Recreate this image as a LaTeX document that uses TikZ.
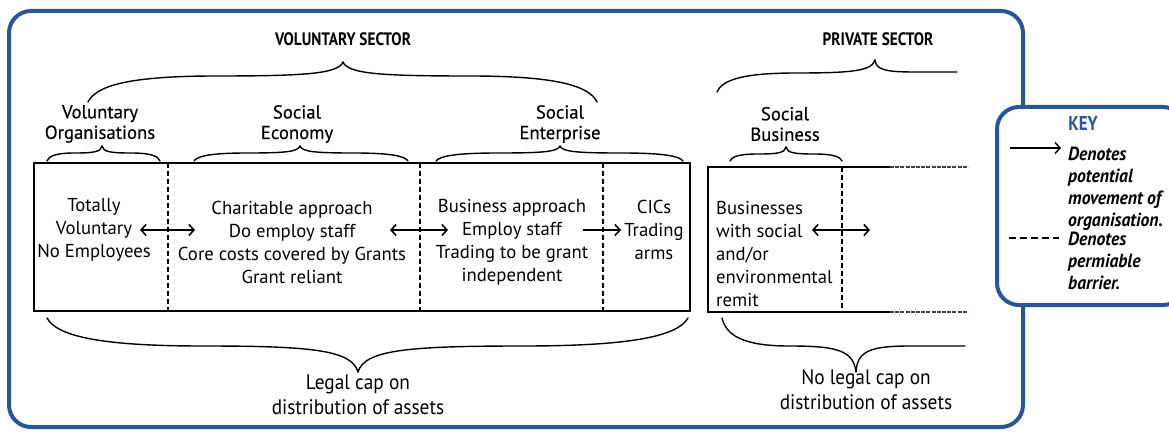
\documentclass[tikz,border=0pt]{standalone}
\usepackage{fontspec}
\setmainfont{PT Sans}
\newfontfamily\condfont[FakeStretch=0.85]{PT Sans}
\newfontfamily\capfont[FakeStretch=0.92]{PT Sans}
\newfontfamily\keyfont[FakeStretch=0.93]{PT Sans}
\newfontfamily\headfont[FakeBold=0.4]{PT Sans}
\usetikzlibrary{arrows.meta}
\definecolor{frameblue}{RGB}{42,86,150}
\tikzset{
  body/.style={font=\fontsize{18.7}{23}\selectfont, align=center, inner sep=0pt},
  head/.style={font=\headfont\fontsize{18.7}{20.5}\selectfont, align=center, inner sep=0pt},
  sector/.style={font=\condfont\bfseries\fontsize{18}{20}\selectfont, inner sep=0pt},
  captxt/.style={font=\capfont\fontsize{21}{25}\selectfont, align=center, inner sep=0pt},
  keytxt/.style={font=\keyfont\bfseries\itshape\fontsize{19}{22}\selectfont, align=left, anchor=north west, inner sep=0pt},
  bracestyle/.style={line width=1.4pt, line cap=round},
  boxline/.style={line width=2pt},
  barrier/.style={line width=2pt, dash pattern=on 5pt off 3pt},
  movetip/.style={line width=1.6pt, -{Straight Barb[length=5pt,width=11pt]}},
  moveboth/.style={line width=1.6pt, {Straight Barb[length=5pt,width=11pt]}-{Straight Barb[length=5pt,width=11pt]}},
  frame/.style={draw=frameblue, line width=4pt, rounded corners=22pt}
}
% half brace: x_end, y_end, x_tip, y_tip, y_mid
\newcommand\halfbrace[5]{%
  \draw[bracestyle] (#1,#2) .. controls ({#1+0.03*(#3-#1)},{#5+0.4*(#2-#5)}) and ({#1+0.15*(#3-#1)},{#5}) .. ({#1+0.5*(#3-#1)},{#5})
    .. controls ({#1+0.85*(#3-#1)},{#5}) and ({#3-0.02*(#3-#1)},{#5+0.15*(#4-#5)}) .. (#3,#4);}
% cut half: x_tip, y_tip, y_mid, half length (signed), x_end
\newcommand\cuthalf[5]{%
  \draw[bracestyle] (#1,#2) .. controls ({#1+0.02*#4},{#3+0.15*(#2-#3)}) and ({#1+0.3*#4},{#3}) .. ({#1+#4},{#3}) -- (#5,#3);}
\begin{document}
\begin{tikzpicture}[x=1pt,y=-1pt]
\useasboundingbox (0,0) rectangle (1169,433);
% outer frame
\draw[frame] (9,11) rectangle (1023,427);
% sector headings
\node[sector] (vs) at (343,39) {VOLUNTARY SECTOR};
\node[sector] (ps) at (878,39) {PRIVATE SECTOR};
% big top braces
\halfbrace{88}{102}{343}{62}{76}
\halfbrace{597}{102}{343}{62}{76}
\halfbrace{717}{92}{875}{60}{73}
\cuthalf{875}{60}{72}{40}{957}
% group headings
\node[head] (vo) at (100,124) {Voluntary\\Organisations};
\node[head] (se) at (297,124) {Social\\Economy};
\node[head] (sen) at (560,124) {Social\\Enterprise};
\node[head] (sb) at (785,124) {Social\\Business};
% small braces
\halfbrace{47}{161}{102}{146}{153}
\halfbrace{160}{161}{102}{146}{153}
\halfbrace{194}{161}{300}{146}{153}
\halfbrace{408}{161}{300}{146}{153}
\halfbrace{436}{161}{560}{146}{153}
\halfbrace{683}{161}{560}{146}{153}
\halfbrace{730}{161}{786}{147}{154}
\halfbrace{842}{161}{786}{147}{154}
% main box
\draw[boxline] (34,163) rectangle (690,311);
\draw[barrier] (168,163) -- (168,311);
\draw[barrier] (420,163) -- (420,311);
\draw[barrier] (603,163) -- (603,311);
% social business box
\draw[line width=1.4pt] (890,167) -- (708,167) -- (708,312) -- (890,312);
\draw[line width=1.4pt, dash pattern=on 4pt off 1.2pt, black!75] (890,167) -- (968,167);
\draw[line width=1.4pt, dash pattern=on 4pt off 1.2pt, black!75] (890,312) -- (968,312);
\draw[barrier] (842,167) -- (842,312);
% texts in boxes
\node[body] (t1) at (94,230) {Totally\\Voluntary\\No Employees};
\node[body] (t2) at (292,242) {Charitable approach\\Do employ staff\\Core costs covered by Grants\\Grant reliant};
\node[body] (t3) at (512,242) {Business approach\\Employ staff\\Trading to be grant\\independent};
\node[body] (t4) at (654,230) {CICs\\Trading\\arms};
\node[body, align=left, anchor=west] (t5) at (716,254) {Businesses\\with social\\and/or\\environmental\\remit};
% movement arrows
\coordinate (a1s) at (140,230); \coordinate (a1e) at (195,230);
\coordinate (a2s) at (390,230); \coordinate (a2e) at (448,230);
\coordinate (a3s) at (583,230); \coordinate (a3e) at (621,230);
\coordinate (a4s) at (812,230); \coordinate (a4e) at (870,230);
\draw[moveboth] (a1s) -- (a1e);
\draw[moveboth] (a2s) -- (a2e);
\draw[movetip] (a3s) -- (a3e);
\draw[moveboth] (a4s) -- (a4e);
% bottom braces
\halfbrace{47}{318}{358}{372}{346}
\halfbrace{688}{318}{358}{372}{346}
\halfbrace{722}{318}{856}{372}{346}
\cuthalf{856}{372}{346}{55}{965}
\node[captxt] (c1) at (358,395) {Legal cap on\\distribution of assets};
\node[captxt] (c2) at (866,390) {No legal cap on\\distribution of assets};
% key
\draw[frame, fill=white] (997,107) rectangle (1185,305);
\node[font=\condfont\bfseries\fontsize{20}{22}\selectfont, text=frameblue, inner sep=0pt] (key) at (1083,124) {KEY};
\coordinate (k1s) at (1010,148); \coordinate (k1e) at (1061,148);
\draw[line width=1.4pt, -{Straight Barb[length=5pt,width=11pt]}] (k1s) -- (k1e);
\node[keytxt] (kt1) at (1068,147) {Denotes\\potential\\movement of\\organisation.};
\coordinate (k2s) at (1009,238); \coordinate (k2e) at (1059,238);
\draw[line width=1.4pt, dash pattern=on 7pt off 4pt] (k2s) -- (k2e);
\node[keytxt] (kt2) at (1068,232) {Denotes\\permiable\\barrier.};
\end{tikzpicture}
\end{document}
